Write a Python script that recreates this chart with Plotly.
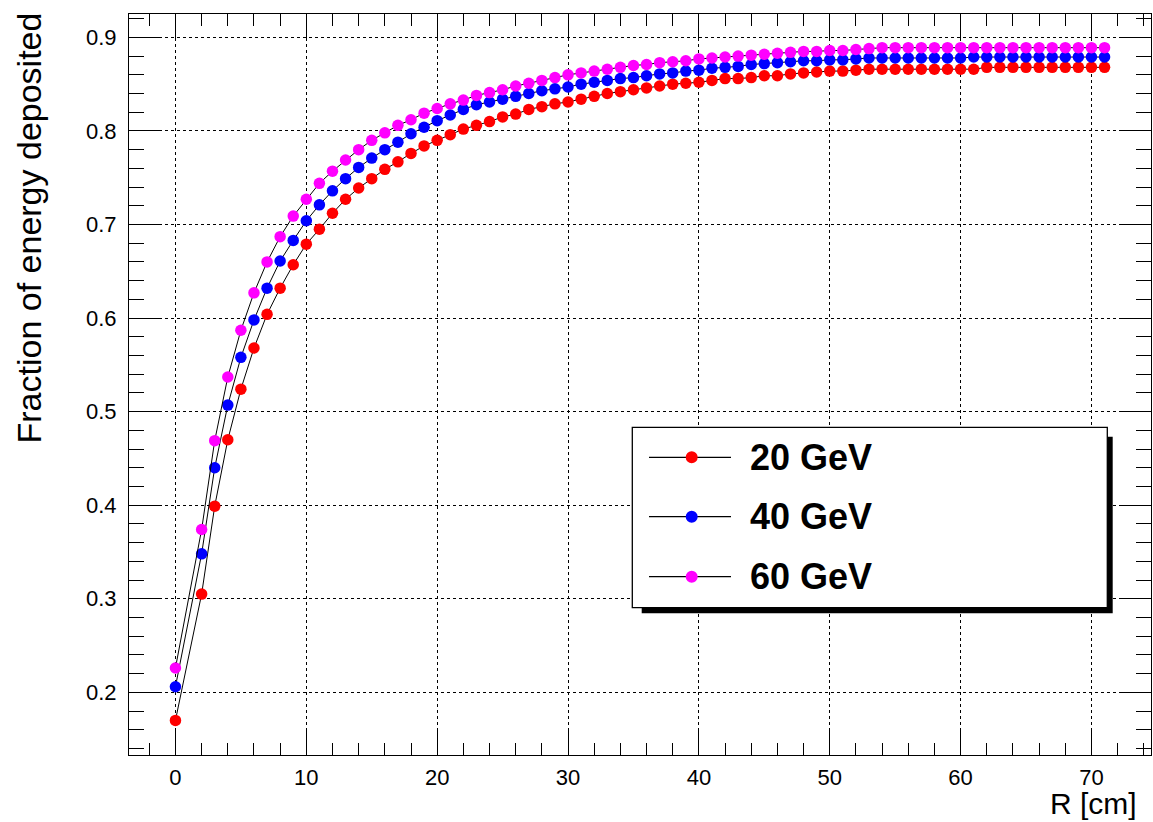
import plotly.graph_objects as go

# ---------------- data ----------------
R_cm = [0, 2, 3, 4, 5, 6, 7, 8, 9, 10,
        11, 12, 13, 14, 15, 16, 17, 18, 19, 20,
        21, 22, 23, 24, 25, 26, 27, 28, 29, 30,
        31, 32, 33, 34, 35, 36, 37, 38, 39, 40,
        41, 42, 43, 44, 45, 46, 47, 48, 49, 50,
        51, 52, 53, 54, 55, 56, 57, 58, 59, 60,
        61, 62, 63, 64, 65, 66, 67, 68, 69, 70,
        71]

frac_20GeV = [0.170, 0.305, 0.399, 0.470, 0.524, 0.568, 0.604, 0.632, 0.657, 0.679,
              0.695, 0.712, 0.727, 0.739, 0.749, 0.759, 0.767, 0.776, 0.784, 0.790,
              0.796, 0.802, 0.806, 0.810, 0.815, 0.818, 0.823, 0.826, 0.829, 0.831,
              0.834, 0.837, 0.840, 0.842, 0.844, 0.846, 0.848, 0.850, 0.851, 0.852,
              0.854, 0.856, 0.856, 0.857, 0.859, 0.859, 0.861, 0.862, 0.863, 0.864,
              0.864, 0.865, 0.866, 0.866, 0.866, 0.866, 0.866, 0.866, 0.866, 0.866,
              0.866, 0.868, 0.868, 0.868, 0.868, 0.868, 0.868, 0.868, 0.868, 0.868,
              0.868]

frac_40GeV = [0.206, 0.348, 0.440, 0.507, 0.558, 0.598, 0.632, 0.661, 0.683, 0.704,
              0.721, 0.736, 0.749, 0.761, 0.771, 0.780, 0.788, 0.797, 0.804, 0.811,
              0.817, 0.823, 0.828, 0.831, 0.834, 0.837, 0.840, 0.843, 0.845, 0.847,
              0.850, 0.852, 0.854, 0.856, 0.857, 0.859, 0.861, 0.862, 0.864, 0.865,
              0.867, 0.868, 0.869, 0.871, 0.872, 0.873, 0.874, 0.875, 0.875, 0.876,
              0.876, 0.877, 0.878, 0.878, 0.878, 0.878, 0.878, 0.878, 0.878, 0.878,
              0.879, 0.879, 0.879, 0.879, 0.879, 0.879, 0.879, 0.879, 0.879, 0.879,
              0.879]

frac_60GeV = [0.226, 0.374, 0.469, 0.537, 0.587, 0.627, 0.660, 0.687, 0.709, 0.727,
              0.744, 0.757, 0.769, 0.780, 0.790, 0.798, 0.806, 0.812, 0.819, 0.824,
              0.829, 0.833, 0.838, 0.841, 0.844, 0.848, 0.851, 0.854, 0.857, 0.860,
              0.862, 0.864, 0.866, 0.868, 0.870, 0.871, 0.873, 0.874, 0.875, 0.877,
              0.878, 0.879, 0.880, 0.881, 0.882, 0.883, 0.884, 0.885, 0.885, 0.886,
              0.886, 0.887, 0.888, 0.889, 0.889, 0.889, 0.889, 0.889, 0.889, 0.889,
              0.889, 0.889, 0.889, 0.889, 0.889, 0.889, 0.889, 0.889, 0.889, 0.889,
              0.889]

series_names = ["20 GeV", "40 GeV", "60 GeV"]
series_values = [frac_20GeV, frac_40GeV, frac_60GeV]
series_colors = ["#ff0000", "#0000ff", "#ff00ff"]

x_title = "R [cm]"
y_title = "Fraction of energy deposited"

# ---------------- layout geometry (pixels) ----------------
W, H = 1153, 822
ML, MR, MT, MB = 129, 2, 14, 67
PW, PH = W - ML - MR, H - MT - MB
FONT = "Liberation Sans, Arial, Helvetica, sans-serif"


def px(xp):
    return (xp - ML) / PW


def py(yp):
    return (H - MB - yp) / PH


fig = go.Figure()
for name, vals, col in zip(series_names, series_values, series_colors):
    fig.add_trace(go.Scatter(
        x=R_cm, y=vals, name=name, mode="lines+markers",
        line=dict(color="black", width=1),
        marker=dict(color=col, size=11.5, symbol="circle", line=dict(width=0)),
        showlegend=False,
    ))

axis_common = dict(
    showline=True, linecolor="black", linewidth=1, mirror="allticks",
    ticks="inside", tickcolor="black", tickwidth=1,
    showgrid=True, gridcolor="black", gridwidth=1, griddash="dot",
    zeroline=False,
    tickfont=dict(family=FONT, size=22, color="black"),
)

fig.update_xaxes(
    range=[-3.55, 74.55], tickmode="linear", tick0=0, dtick=10, ticklen=24,
    minor=dict(dtick=2, tick0=0, ticklen=12, ticks="inside", tickcolor="black",
               tickwidth=1, showgrid=False),
    ticklabelstandoff=3,
    **axis_common,
)
fig.update_yaxes(
    range=[0.133, 0.925], tickmode="linear", tick0=0, dtick=0.1, ticklen=30,
    tickformat=".1f",
    minor=dict(dtick=0.02, tick0=0, ticklen=15, ticks="inside", tickcolor="black",
               tickwidth=1, showgrid=False),
    ticklabelstandoff=7,
    **axis_common,
)

annotations = [
    dict(text=y_title, xref="paper", yref="paper", x=px(28), y=py(11),
         xanchor="center", yanchor="top", textangle=-90, showarrow=False,
         font=dict(family=FONT, size=34, color="black")),
    dict(text=x_title, xref="paper", yref="paper", x=px(1139), y=py(822),
         xanchor="right", yanchor="bottom", showarrow=False,
         font=dict(family=FONT, size=30, color="black")),
]

# ---------------- ROOT-style legend box ----------------
shapes = [
    dict(type="rect", xref="paper", yref="paper",
         x0=px(641.7), x1=px(1112.7), y0=py(613.3), y1=py(436.7),
         fillcolor="black", line=dict(width=0), layer="above"),
    dict(type="rect", xref="paper", yref="paper",
         x0=px(632.3), x1=px(1107.3), y0=py(607.7), y1=py(427.3),
         fillcolor="white", line=dict(color="black", width=1.3), layer="above"),
]
row_y = [457.3, 516.7, 576.7]
for name, col, ry in zip(series_names, series_colors, row_y):
    shapes.append(dict(type="line", xref="paper", yref="paper",
                       x0=px(649), x1=px(731), y0=py(ry), y1=py(ry),
                       line=dict(color="black", width=1.3), layer="above"))
    shapes.append(dict(type="circle", xref="paper", yref="paper",
                       xsizemode="pixel", ysizemode="pixel",
                       xanchor=px(691.7), yanchor=py(ry),
                       x0=-6, x1=6, y0=-6, y1=6,
                       fillcolor=col, line=dict(width=0), layer="above"))
    annotations.append(dict(text="<b>%s</b>" % name, xref="paper", yref="paper",
                            x=px(748), y=py(ry), xanchor="left", yanchor="middle",
                            showarrow=False,
                            font=dict(family=FONT, size=36, color="black")))

fig.update_layout(
    width=W, height=H, autosize=False,
    margin=dict(l=ML, r=MR, t=MT, b=MB, pad=0),
    plot_bgcolor="white", paper_bgcolor="white",
    showlegend=False,
    annotations=annotations, shapes=shapes,
    font=dict(family=FONT, color="black"),
)

fig.write_html(
    "out.html",
    config={"displayModeBar": False},
    post_script="document.body.style.margin='0';"
                "document.documentElement.style.overflow='hidden';"
                "document.body.style.overflow='hidden';",
)
